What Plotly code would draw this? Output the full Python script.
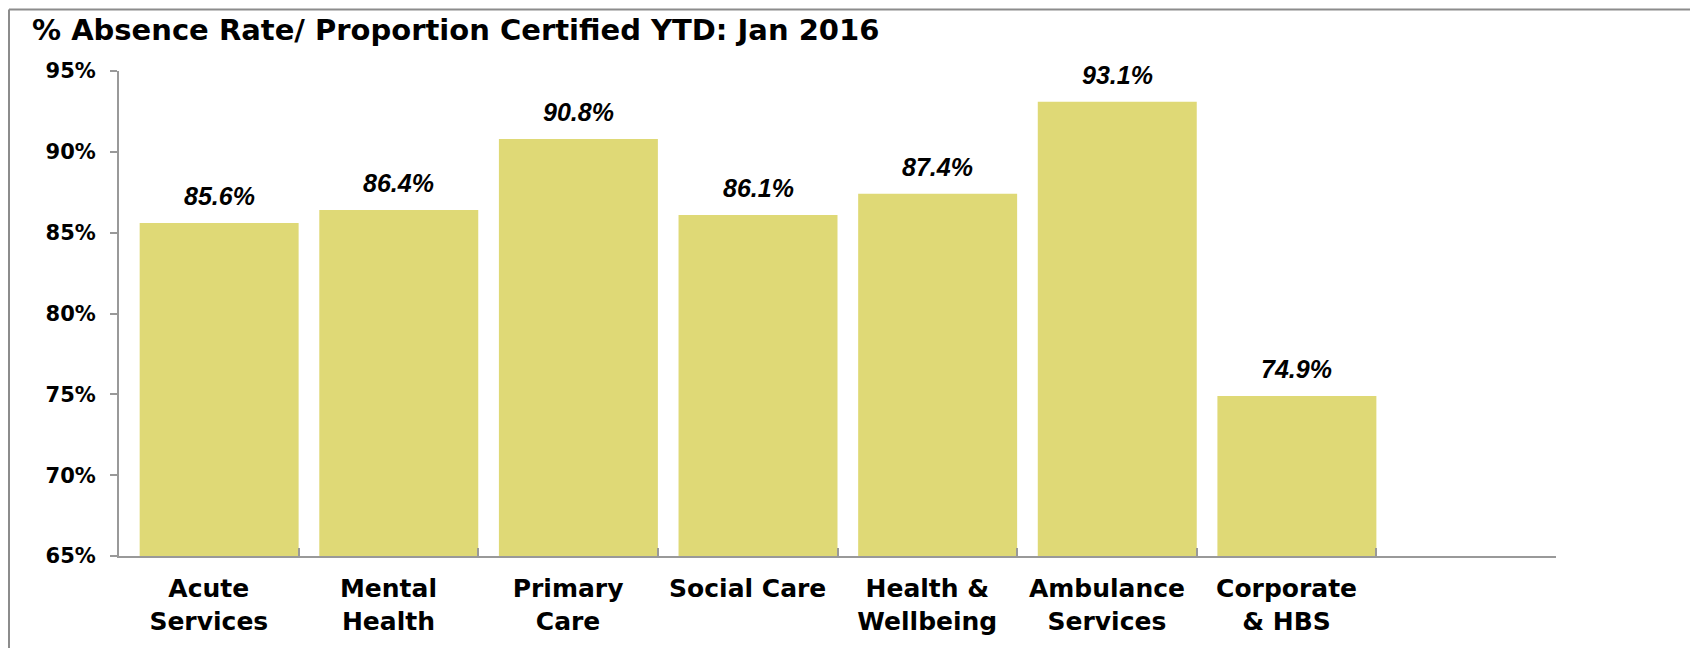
import plotly.graph_objects as go

categories = ["Acute<br>Services", "Mental<br>Health", "Primary<br>Care", "Social Care",
              "Health &<br>Wellbeing", "Ambulance<br>Services", "Corporate<br>& HBS"]
values = [85.6, 86.4, 90.8, 86.1, 87.4, 93.1, 74.9]
y_ticks = [65, 70, 75, 80, 85, 90, 95]
y_tick_labels = ["65%", "70%", "75%", "80%", "85%", "90%", "95%"]

# the page body adds 8px around the figure, so the figure is a bit smaller
W, H = 1690, 640
ML, MR, MT, MB = 111, 142, 63, 88
BAR_W = 0.885
BAR_OFF = 0.5 - BAR_W          # bars sit against the right-hand tick of each slot
SLOT_PX = (W - ML - MR) / 8

# empty eighth slot on the right, as in the original
cat_order = categories + [" "]

fig = go.Figure()
fig.add_trace(go.Bar(
    x=categories,
    y=values,
    width=BAR_W,
    offset=BAR_OFF,
    marker=dict(color="#DFD976", line=dict(width=0)),
    hoverinfo="x+y",
))

# data labels
for cat, val in zip(categories, values):
    fig.add_annotation(
        x=cat, y=val, xref="x", yref="y",
        text=f"{val:.1f}%",
        showarrow=False,
        yanchor="bottom",
        xshift=(BAR_OFF + BAR_W / 2) * SLOT_PX,
        yshift=11,
        font=dict(family="Liberation Sans, Arial", size=25, color="#000000",
                  weight="bold", style="italic"),
    )

# grey frame at top and left edge of the picture
px_x = lambda p: (p - ML) / (W - ML - MR)
px_y = lambda p: (H - MB - p) / (H - MT - MB)
fig.add_shape(type="line", xref="paper", yref="paper",
              x0=px_x(1), x1=px_x(W + 5), y0=px_y(1), y1=px_y(1),
              line=dict(color="#8C8C8C", width=2))
fig.add_shape(type="line", xref="paper", yref="paper",
              x0=px_x(1), x1=px_x(1), y0=px_y(1), y1=px_y(H + 5),
              line=dict(color="#8C8C8C", width=2))

fig.update_layout(
    width=W, height=H,
    margin=dict(l=ML, r=MR, t=MT, b=MB, pad=0),
    plot_bgcolor="white",
    paper_bgcolor="white",
    showlegend=False,
    title=dict(
        text="% Absence Rate/ Proportion Certified YTD: Jan 2016",
        x=24 / W, xanchor="left", xref="container",
        y=1 - 22 / H, yanchor="middle", yref="container",
        font=dict(family="DejaVu Sans", size=29, color="#000000", weight="bold"),
    ),
)

fig.update_xaxes(
    type="category",
    categoryorder="array",
    categoryarray=cat_order,
    range=[-0.5, 7.5],
    showline=True, linecolor="#999999", linewidth=2,
    ticks="inside", ticklen=8, tickcolor="#999999", tickwidth=2,
    tickson="boundaries",
    showgrid=False, zeroline=False,
    ticklabelstandoff=9,
    tickfont=dict(family="DejaVu Sans", size=25, color="#000000", weight="bold"),
)

fig.update_yaxes(
    range=[65, 95],
    tickmode="array", tickvals=y_ticks, ticktext=y_tick_labels,
    showline=True, linecolor="#999999", linewidth=2,
    ticks="outside", ticklen=7, tickcolor="#999999", tickwidth=2,
    showgrid=False, zeroline=False,
    ticklabelstandoff=10,
    tickfont=dict(family="DejaVu Sans", size=21, color="#000000", weight="bold"),
)

fig.write_html("out.html")
